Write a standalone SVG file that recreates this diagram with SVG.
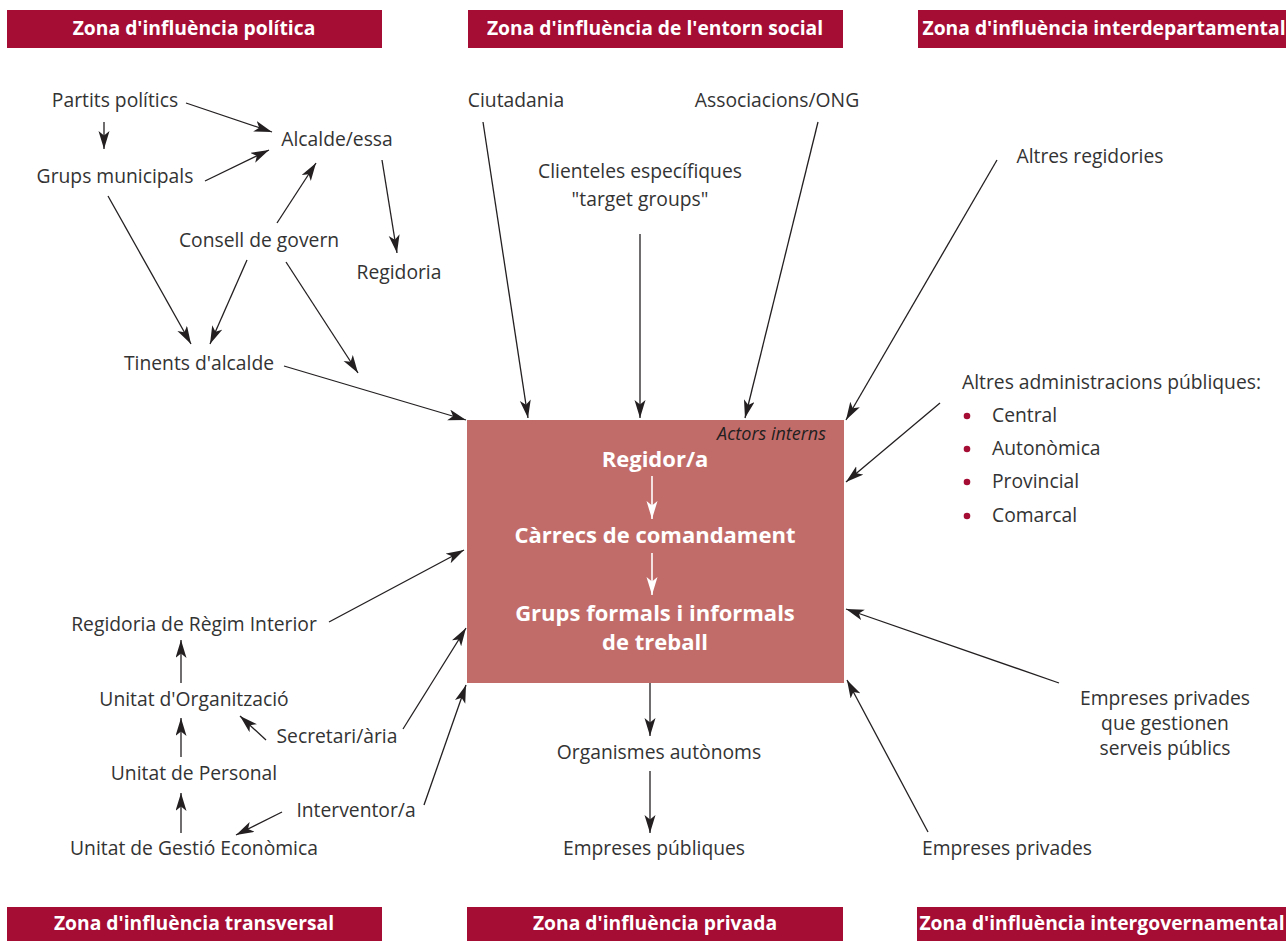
<svg xmlns="http://www.w3.org/2000/svg" width="1286" height="941" viewBox="0 0 1286 941">
<defs>
<marker id="ah" markerUnits="userSpaceOnUse" markerWidth="20" markerHeight="13" refX="18" refY="5.5" orient="auto">
<path d="M0,0 L18,5.5 L0,11 L4.5,5.5 Z" fill="#231f20"/>
</marker>
<marker id="ahw" markerUnits="userSpaceOnUse" markerWidth="20" markerHeight="13" refX="18" refY="5.5" orient="auto">
<path d="M0,0 L18,5.5 L0,11 L4.5,5.5 Z" fill="#ffffff"/>
</marker>
<style>
.bar{fill:#a50d35}
.bt{font-family:"Open Sans","Noto Sans",sans-serif;font-weight:bold;font-size:19.3px;fill:#ffffff;text-anchor:middle}
.t{font-family:"Open Sans","Noto Sans",sans-serif;font-size:19.3px;fill:#333333;text-anchor:middle}
.tl{font-family:"Open Sans","Noto Sans",sans-serif;font-size:19.3px;fill:#333333}
.in{font-family:"Open Sans","Noto Sans",sans-serif;font-size:22px;font-weight:bold;fill:#ffffff;text-anchor:middle}
.it{font-family:"Open Sans","Noto Sans",sans-serif;font-size:18px;font-style:italic;fill:#231f20;text-anchor:end}
.c{stroke:#231f20;stroke-width:1.3;fill:none;marker-end:url(#ah)}
.cw{stroke:#ffffff;stroke-width:1.6;fill:none;marker-end:url(#ahw)}
.dot{fill:#a50d35}
</style>
</defs>
<g id="headers">
<rect class="bar" x="7" y="10" width="375" height="38"/>
<text class="bt" x="194" y="35">Zona d'influència política</text>
<rect class="bar" x="468" y="10" width="375" height="38"/>
<text class="bt" x="655" y="35">Zona d'influència de l'entorn social</text>
<rect class="bar" x="918" y="10" width="368" height="38"/>
<text class="bt" x="1104" y="35">Zona d'influència interdepartamental</text>
<rect class="bar" x="7" y="907" width="375" height="34"/>
<text class="bt" x="194" y="930">Zona d'influència transversal</text>
<rect class="bar" x="467" y="907" width="376" height="34"/>
<text class="bt" x="655" y="930">Zona d'influència privada</text>
<rect class="bar" x="917" y="907" width="369" height="34"/>
<text class="bt" x="1102" y="930">Zona d'influència intergovernamental</text>
</g>
<g id="center">
<rect x="467" y="420" width="377" height="263" fill="#c26c6a"/>
<text class="it" x="826" y="440">Actors interns</text>
<text class="in" x="655" y="467">Regidor/a</text>
<text class="in" x="655" y="543">Càrrecs de comandament</text>
<text class="in" x="655" y="621">Grups formals i informals</text>
<text class="in" x="655" y="650">de treball</text>
</g>
<g id="n-partits"><text class="t" x="115" y="107">Partits polítics</text></g>
<g id="n-alcalde"><text class="t" x="337" y="146">Alcalde/essa</text></g>
<g id="n-grups"><text class="t" x="115" y="183">Grups municipals</text></g>
<g id="n-consell"><text class="t" x="259" y="247">Consell de govern</text></g>
<g id="n-regidoria"><text class="t" x="399" y="279">Regidoria</text></g>
<g id="n-tinents"><text class="t" x="199" y="370">Tinents d'alcalde</text></g>
<g id="n-ciutadania"><text class="t" x="516" y="107">Ciutadania</text></g>
<g id="n-associacions"><text class="t" x="777" y="107">Associacions/ONG</text></g>
<g id="n-clienteles"><text class="t" x="640" y="178">Clienteles específiques</text><text class="t" x="640" y="206">"target groups"</text></g>
<g id="n-altresreg"><text class="t" x="1090" y="163">Altres regidories</text></g>
<g id="n-altresadm">
<text class="tl" x="962" y="389">Altres administracions públiques:</text>
<circle class="dot" cx="967" cy="416" r="3.3"/><text class="tl" x="992" y="422">Central</text>
<circle class="dot" cx="967" cy="449" r="3.3"/><text class="tl" x="992" y="455">Autonòmica</text>
<circle class="dot" cx="967" cy="482" r="3.3"/><text class="tl" x="992" y="488">Provincial</text>
<circle class="dot" cx="967" cy="516" r="3.3"/><text class="tl" x="992" y="522">Comarcal</text>
</g>
<g id="n-empprivserv"><text class="t" x="1165" y="705">Empreses privades</text><text class="t" x="1165" y="730">que gestionen</text><text class="t" x="1165" y="755">serveis públics</text></g>
<g id="n-empriv"><text class="t" x="1007" y="855">Empreses privades</text></g>
<g id="n-organismes"><text class="t" x="659" y="759">Organismes autònoms</text></g>
<g id="n-emppub"><text class="t" x="654" y="855">Empreses públiques</text></g>
<g id="n-regimint"><text class="t" x="194" y="631">Regidoria de Règim Interior</text></g>
<g id="n-organitzacio"><text class="t" x="194" y="706">Unitat d'Organització</text></g>
<g id="n-secretari"><text class="t" x="337" y="743">Secretari/ària</text></g>
<g id="n-personal"><text class="t" x="194" y="780">Unitat de Personal</text></g>
<g id="n-interventor"><text class="t" x="356" y="817">Interventor/a</text></g>
<g id="n-gestio"><text class="t" x="194" y="855">Unitat de Gestió Econòmica</text></g>
<g id="connectors">
<line class="c" x1="186" y1="103" x2="272" y2="132"/>
<line class="c" x1="104" y1="122" x2="104" y2="149"/>
<line class="c" x1="205" y1="181" x2="269" y2="150"/>
<line class="c" x1="277" y1="223" x2="316" y2="163"/>
<line class="c" x1="382" y1="160" x2="397" y2="253"/>
<line class="c" x1="108" y1="196" x2="191" y2="344"/>
<line class="c" x1="247" y1="260" x2="210" y2="344"/>
<line class="c" x1="286" y1="262" x2="358" y2="373"/>
<line class="c" x1="284" y1="366" x2="466" y2="420"/>
<line class="c" x1="483" y1="122" x2="528" y2="418"/>
<line class="c" x1="818" y1="122" x2="745" y2="418"/>
<line class="c" x1="640" y1="234" x2="640" y2="418"/>
<line class="c" x1="997" y1="160" x2="846" y2="420"/>
<line class="c" x1="940" y1="403" x2="846" y2="482"/>
<line class="cw" x1="652" y1="476" x2="652" y2="519"/>
<line class="cw" x1="652" y1="553" x2="652" y2="595"/>
<line class="c" x1="650" y1="683" x2="650" y2="736"/>
<line class="c" x1="650" y1="771" x2="650" y2="833"/>
<line class="c" x1="928" y1="832" x2="847" y2="680"/>
<line class="c" x1="1059" y1="683" x2="846" y2="609"/>
<line class="c" x1="329" y1="622" x2="464" y2="550"/>
<line class="c" x1="181" y1="683" x2="181" y2="640"/>
<line class="c" x1="181" y1="757" x2="181" y2="718"/>
<line class="c" x1="181" y1="833" x2="181" y2="793"/>
<line class="c" x1="266" y1="740" x2="240" y2="716"/>
<line class="c" x1="403" y1="729" x2="466" y2="628"/>
<line class="c" x1="282" y1="812" x2="236" y2="835"/>
<line class="c" x1="424" y1="805" x2="466" y2="685"/>
</g>
</svg>
